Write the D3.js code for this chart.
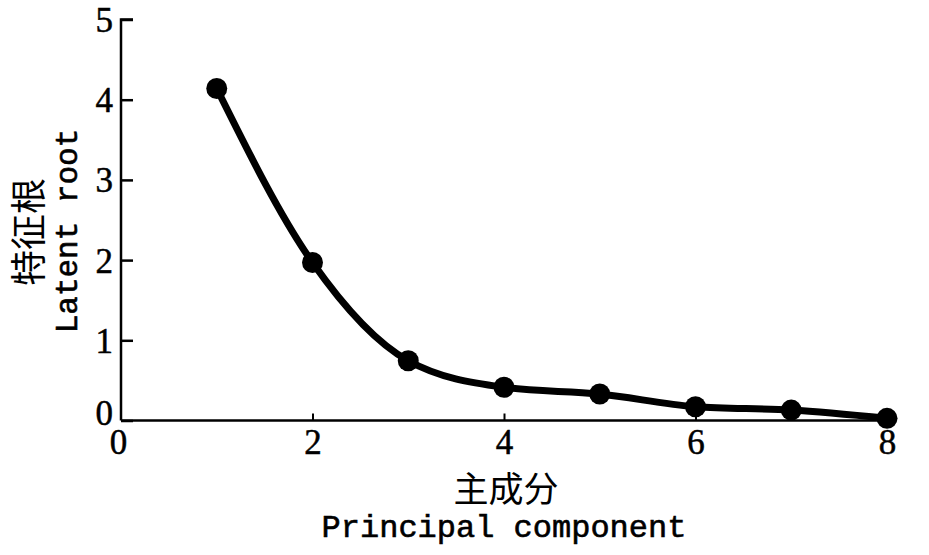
<!DOCTYPE html>
<html>
<head>
<meta charset="utf-8">
<script src="https://cdn.jsdelivr.net/npm/d3@7"></script>
<style>
  html, body { margin: 0; padding: 0; background: #fff; }
  svg { display: block; }
</style>
</head>
<body>
<svg id="chart" width="929" height="555"></svg>
<script>
const components = [1, 2, 3, 4, 5, 6, 7, 8];
const latentRoots = [4.14, 1.97, 0.745, 0.414, 0.33, 0.172, 0.13, 0.027];
const xTicks = [0, 2, 4, 6, 8];
const yTicks = [0, 1, 2, 3, 4, 5];
const xTitleCn = "主成分";
const xTitleEn = "Principal component";
const yTitleCn = "特征根";
const yTitleEn = "Latent root";

const svg = d3.select("#chart");
const x = d3.scaleLinear().domain([0, 8]).range([121, 887]);
const y = d3.scaleLinear().domain([0, 5]).range([420.5, 19.5]);

const digitFont = "'Liberation Serif', 'DejaVu Serif', serif";
const cnFont = "'Noto Sans CJK SC', sans-serif";
const monoFont = "'Liberation Mono', 'DejaVu Sans Mono', monospace";

// y axis
const yAxis = svg.append("g").attr("transform", `translate(${x(0)},0)`)
  .call(d3.axisRight(y).tickValues(yTicks).tickSize(12).tickFormat(d3.format("d")));
yAxis.select(".domain").attr("stroke", "#000").attr("stroke-width", 2.5).attr("d", `M0,${y(0)}V${y(5)}H12`);
yAxis.selectAll(".tick line").attr("stroke", "#000").attr("stroke-width", 2.5);
yAxis.selectAll(".tick text")
  .attr("x", -8).attr("text-anchor", "end").attr("dy", "0.34em")
  .attr("font-family", digitFont).attr("font-size", 35).attr("fill", "#000")
  .attr("stroke", "#000").attr("stroke-width", 0.5);
yAxis.selectAll(".tick").filter(d => d === 0).select("text").attr("dy", "0.1em");

// x axis
const xAxis = svg.append("g").attr("transform", `translate(0,${y(0)})`)
  .call(d3.axisTop(x).tickValues(xTicks).tickSize(7).tickFormat(d3.format("d")));
xAxis.select(".domain").attr("stroke", "#000").attr("stroke-width", 2.5).attr("d", `M${x(0)},0H${x(8)}`);
xAxis.selectAll(".tick line").attr("stroke", "#000").attr("stroke-width", 2);
xAxis.selectAll(".tick").filter(d => d === 0).select("line").remove();
xAxis.selectAll(".tick text")
  .attr("y", 33).attr("dy", 0).attr("text-anchor", "middle")
  .attr("font-family", digitFont).attr("font-size", 35).attr("fill", "#000")
  .attr("stroke", "#000").attr("stroke-width", 0.5);
xAxis.selectAll(".tick").filter(d => d === 0).select("text").attr("dx", -3);

// curve
const data = components.map((c, i) => ({ c, v: latentRoots[i] }));
svg.append("path")
  .datum(data)
  .attr("fill", "none").attr("stroke", "#000").attr("stroke-width", 7)
  .attr("stroke-linejoin", "round")
  .attr("d", d3.line().x(d => x(d.c)).y(d => y(d.v)).curve(d3.curveMonotoneX));

svg.append("g").selectAll("circle").data(data).join("circle")
  .attr("cx", d => x(d.c)).attr("cy", d => y(d.v)).attr("r", 10.5).attr("fill", "#000");

// titles
svg.append("text").attr("x", 506).attr("y", 502).attr("text-anchor", "middle")
  .attr("font-family", cnFont).attr("font-size", 35).attr("fill", "#000").text(xTitleCn);
svg.append("text").attr("x", 504).attr("y", 537).attr("text-anchor", "middle")
  .attr("font-family", monoFont).attr("font-size", 32).attr("fill", "#000")
  .attr("stroke", "#000").attr("stroke-width", 0.6).text(xTitleEn);

svg.append("text").attr("transform", "translate(42,232) rotate(-90)").attr("text-anchor", "middle")
  .attr("font-family", cnFont).attr("font-size", 36).attr("fill", "#000").text(yTitleCn);
svg.append("text").attr("transform", "translate(77,231) rotate(-90)").attr("text-anchor", "middle")
  .attr("font-family", monoFont).attr("font-size", 31).attr("fill", "#000")
  .attr("stroke", "#000").attr("stroke-width", 0.6).text(yTitleEn);
</script>
</body>
</html>
